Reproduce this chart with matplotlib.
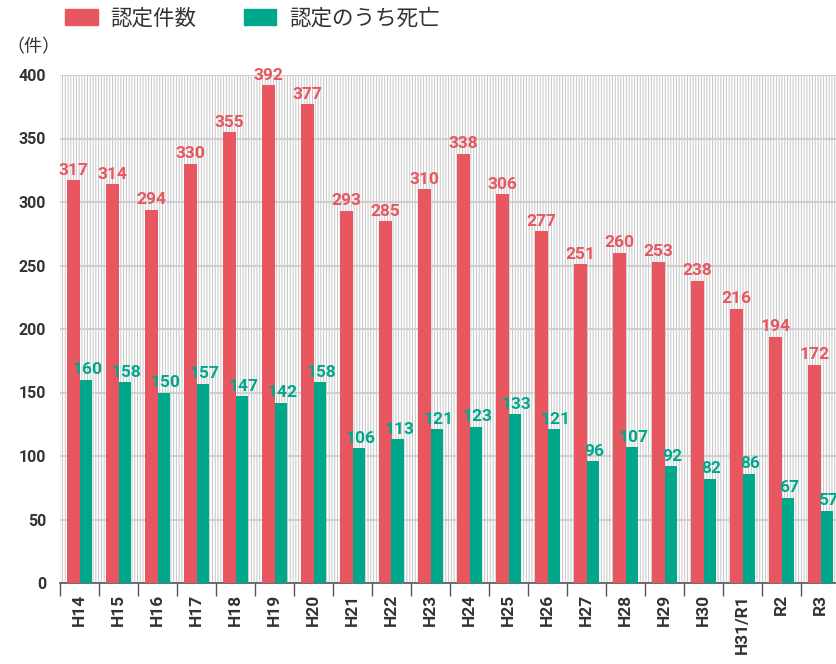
import matplotlib.pyplot as plt
import matplotlib.patches as mpatches
import numpy as np

plt.rcParams['font.family'] = ['Noto Sans CJK JP', 'DejaVu Sans']
plt.rcParams['hatch.linewidth'] = 0.7

years = ["H14", "H15", "H16", "H17", "H18", "H19", "H20", "H21", "H22", "H23",
         "H24", "H25", "H26", "H27", "H28", "H29", "H30", "H31/R1", "R2", "R3"]
nintei = [317, 314, 294, 330, 355, 392, 377, 293, 285, 310,
          338, 306, 277, 251, 260, 253, 238, 216, 194, 172]
shibou = [160, 158, 150, 157, 147, 142, 158, 106, 113, 121,
          123, 133, 121, 96, 107, 92, 82, 86, 67, 57]

RED = "#e8575f"
GREEN = "#00a88b"
DARK = "#333333"

fig = plt.figure(figsize=(8.36, 6.64), dpi=100)
ax = fig.add_axes([60 / 836, 81 / 664, 780 / 836, 508 / 664])

# textured background
bg = mpatches.Rectangle((0, 0), 1, 1, transform=ax.transAxes, facecolor="white",
                        edgecolor="#c6c6c6", hatch="||||||", lw=0, zorder=0)
ax.add_patch(bg)
ax.set_facecolor("white")

x = np.arange(len(years))
w = 0.33
ax.bar(x - w / 2, nintei, width=w, color=RED, zorder=3)
ax.bar(x + w / 2, shibou, width=w, color=GREEN, zorder=3)

for i in range(len(years)):
    ax.text(x[i] - w / 2, nintei[i] + 2, str(nintei[i]), ha="center", va="bottom",
            color=RED, fontsize=12.5, fontweight="bold", family="Roboto", zorder=4)
    ax.text(x[i] + w / 2 + 0.03, shibou[i] + 2, str(shibou[i]), ha="center", va="bottom",
            color=GREEN, fontsize=12.5, fontweight="bold", family="Roboto", zorder=4)

ax.set_xlim(-0.5, len(years) - 0.5)
ax.set_ylim(0, 400)
ax.set_yticks(range(0, 401, 50))
ax.yaxis.grid(True, color="#cfcfcf", lw=1.5, zorder=1)
ax.set_axisbelow(True)

ax.set_xticks(np.arange(len(years)) - 0.5)
ax.set_xticklabels([])
ax.set_xticks(x, minor=True)
ax.set_xticklabels(years, minor=True, rotation=90, fontsize=12.5, fontweight="bold",
                   color=DARK, family="Roboto")
ax.tick_params(axis="x", which="major", length=9, width=1, color="#555555", direction="out")
ax.tick_params(axis="x", which="minor", length=0, pad=8)
ax.tick_params(axis="y", length=0, pad=10, labelsize=11.5, labelcolor=DARK)
for lab in ax.get_yticklabels():
    lab.set_fontweight("bold")
    lab.set_family("Roboto")

for s in ["top", "right", "left"]:
    ax.spines[s].set_visible(False)
ax.spines["bottom"].set_color("#555555")
ax.spines["bottom"].set_linewidth(1.2)

fig.text(6 / 836, 1 - 47 / 664, "（件）", fontsize=13, color=DARK, va="center", ha="left")

handles = [mpatches.Patch(color=RED, label="認定件数"),
           mpatches.Patch(color=GREEN, label="認定のうち死亡")]
fig.legend(handles=handles, loc="upper left", bbox_to_anchor=(46 / 836, 1.018), ncol=2,
           frameon=False, fontsize=15.5, handlelength=1.5, handleheight=0.8,
           columnspacing=2.2, handletextpad=0.6, labelcolor=DARK)

fig.savefig("out.png", dpi=100)
